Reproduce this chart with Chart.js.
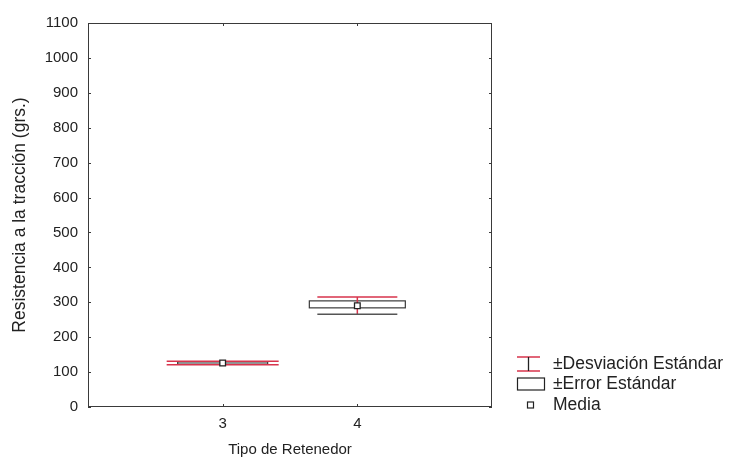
<!DOCTYPE html>
<html>
<head>
<meta charset="utf-8">
<script src="https://cdn.jsdelivr.net/npm/chart.js"></script>
<style>
  html, body { margin: 0; background: #fff; }
  #wrap { width: 733px; height: 459px; }
</style>
</head>
<body>
<div id="wrap"><canvas id="chart"></canvas></div>
<script>
// data
const categories = [3, 4];
const means = [126, 290];
const seLow = [123, 284];
const seHigh = [129, 304];
const sdLow = [121, 266];
const sdHigh = [131, 315];
const yTicks = [0, 100, 200, 300, 400, 500, 600, 700, 800, 900, 1000, 1100];
const legendLabels = ['±Desviación Estándar', '±Error Estándar', 'Media'];

// drawing sizes in px (per group)
const boxHalf = [45, 48];
const whiskerHalf = [56, 40];

const FONT = '"Liberation Sans", Arial, sans-serif';
const RED = '#d8344c';
const DARK = '#3a3a3a';

const boxPlugin = {
  id: 'boxes',
  beforeDatasetsDraw(chart) {
    const { ctx, chartArea: a, scales: { x, y } } = chart;
    ctx.save();
    // frame
    ctx.strokeStyle = DARK;
    ctx.lineWidth = 1;
    ctx.strokeRect(a.left + 0.5, a.top + 0.5, a.right - a.left - 1, a.bottom - a.top - 1);
    // inner ticks
    yTicks.forEach(v => {
      const py = Math.round(y.getPixelForValue(v)) + 0.5;
      ctx.beginPath();
      ctx.moveTo(a.left, py); ctx.lineTo(a.left + 3, py);
      ctx.moveTo(a.right, py); ctx.lineTo(a.right - 3, py);
      ctx.stroke();
    });
    categories.forEach(c => {
      const px = Math.round(x.getPixelForValue(c)) + 0.5;
      ctx.beginPath();
      ctx.moveTo(px, a.bottom); ctx.lineTo(px, a.bottom - 3);
      ctx.moveTo(px, a.top); ctx.lineTo(px, a.top + 3);
      ctx.stroke();
    });

    categories.forEach((c, i) => {
      const cx = x.getPixelForValue(c);
      // SE box
      const bt = y.getPixelForValue(seHigh[i]);
      const bb = y.getPixelForValue(seLow[i]);
      ctx.strokeStyle = DARK;
      ctx.lineWidth = 1.2;
      ctx.strokeRect(cx - boxHalf[i], bt, boxHalf[i] * 2, bb - bt);
      // SD whiskers
      const wt = y.getPixelForValue(sdHigh[i]);
      const wb = y.getPixelForValue(sdLow[i]);
      ctx.lineWidth = 1.5;
      ctx.strokeStyle = RED;
      ctx.beginPath();
      ctx.moveTo(cx - whiskerHalf[i], wt); ctx.lineTo(cx + whiskerHalf[i], wt);
      ctx.moveTo(cx, wt); ctx.lineTo(cx, wb);
      ctx.stroke();
      ctx.strokeStyle = i === 0 ? RED : '#555';
      ctx.beginPath();
      ctx.moveTo(cx - whiskerHalf[i], wb); ctx.lineTo(cx + whiskerHalf[i], wb);
      ctx.stroke();
    });

    // legend
    const lx = 517, ly = [364, 384, 405];
    ctx.strokeStyle = RED;
    ctx.lineWidth = 1.3;
    ctx.beginPath();
    ctx.moveTo(lx, ly[0] - 7); ctx.lineTo(lx + 23, ly[0] - 7);
    ctx.moveTo(lx, ly[0] + 7); ctx.lineTo(lx + 23, ly[0] + 7);
    ctx.stroke();
    ctx.strokeStyle = '#222';
    ctx.beginPath();
    ctx.moveTo(lx + 11.5, ly[0] - 7); ctx.lineTo(lx + 11.5, ly[0] + 7);
    ctx.stroke();
    ctx.lineWidth = 1.2;
    ctx.strokeRect(lx + 0.5, ly[1] - 6, 27, 12);
    ctx.strokeRect(lx + 10.5, ly[2] - 3, 6, 6);
    ctx.fillStyle = '#222';
    ctx.font = '17.5px ' + FONT;
    ctx.textBaseline = 'middle';
    legendLabels.forEach((t, i) => ctx.fillText(t, 553, ly[i]));
    ctx.restore();
  }
};

new Chart(document.getElementById('chart'), {
  type: 'scatter',
  data: {
    datasets: [{
      label: 'Media',
      data: categories.map((c, i) => ({ x: c, y: means[i] })),
      pointStyle: 'rect',
      pointRadius: 4,
      backgroundColor: '#fff',
      borderColor: '#222',
      borderWidth: 1.3
    }]
  },
  options: {
    responsive: true,
    maintainAspectRatio: false,
    animation: false,
    layout: { padding: { top: 23, right: 241, left: 8, bottom: 0 } },
    plugins: { legend: { display: false }, tooltip: { enabled: false } },
    scales: {
      x: {
        type: 'linear', min: 2, max: 5,
        afterBuildTicks: s => { s.ticks = categories.map(v => ({ value: v })); },
        afterFit: s => { s.height = 52; },
        grid: { display: false },
        border: { display: false },
        ticks: { color: '#222', font: { family: FONT, size: 15 }, padding: 0, callback: v => String(v) },
        title: { display: true, text: 'Tipo de Retenedor', color: '#222', font: { family: FONT, size: 15 }, padding: { top: 4, bottom: 0 } }
      },
      y: {
        min: 0, max: 1100,
        afterBuildTicks: s => { s.ticks = yTicks.map(v => ({ value: v })); },
        afterFit: s => { s.width = 80; },
        grid: { display: false },
        border: { display: false },
        ticks: { color: '#222', font: { family: FONT, size: 15 }, padding: 2, callback: v => String(v) },
        title: { display: true, text: 'Resistencia a la tracción (grs.)', color: '#222', font: { family: FONT, size: 17.5 }, padding: { top: 2, bottom: 4 } }
      }
    }
  },
  plugins: [boxPlugin]
});
</script>
</body>
</html>
